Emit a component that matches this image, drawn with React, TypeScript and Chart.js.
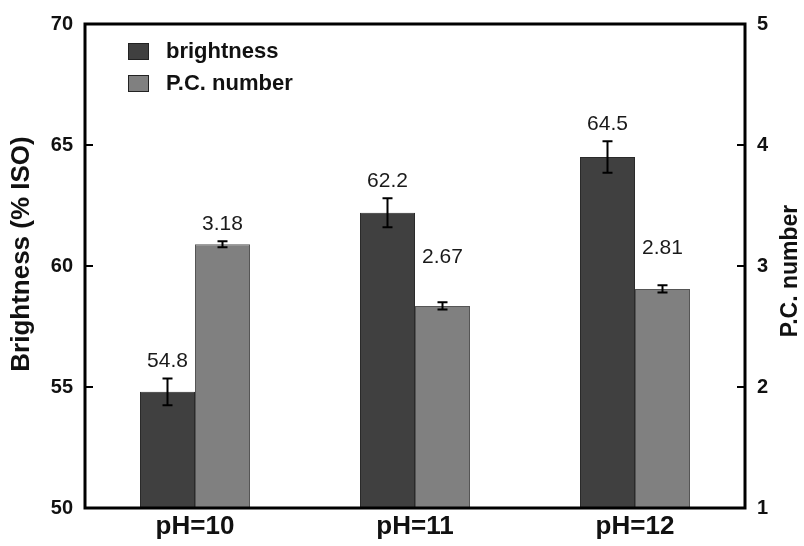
import React, { useEffect, useRef } from "react";
import { Chart, registerables } from "chart.js";

Chart.register(...registerables);

const categories = ["pH=10", "pH=11", "pH=12"];
const brightness = [54.8, 62.2, 64.5];
const brightnessErr = [0.55, 0.6, 0.65];
const pcNumber = [3.18, 2.67, 2.81];
const pcErr = [0.025, 0.03, 0.03];
const leftTicks = [50, 55, 60, 65, 70];
const rightTicks = [1, 2, 3, 4, 5];
const seriesNames = ["brightness", "P.C. number"];
const leftTitle = "Brightness (% ISO)";
const rightTitle = "P.C. number";

const FONT = "'Liberation Sans', Arial, sans-serif";
const DARK = "#404040";
const LIGHT = "#808080";

const overlay = {
  id: "overlay",
  afterDatasetsDraw(chart: any, _args: any, opts: any) {
    const ctx = chart.ctx;
    const area = chart.chartArea;
    const errs = [brightnessErr, pcErr];
    const values = [brightness, pcNumber];
    ctx.save();
    // error bars and value labels
    chart.data.datasets.forEach((ds: any, di: number) => {
      const meta = chart.getDatasetMeta(di);
      const scale = chart.scales[ds.yAxisID];
      meta.data.forEach((el: any, i: number) => {
        const v = values[di][i];
        const e = errs[di][i];
        const yt = scale.getPixelForValue(v + e);
        const yb = scale.getPixelForValue(v - e);
        const x = el.x;
        ctx.strokeStyle = "#000";
        ctx.lineWidth = 2;
        ctx.beginPath();
        ctx.moveTo(x, yt);
        ctx.lineTo(x, yb);
        ctx.moveTo(x - 5, yt);
        ctx.lineTo(x + 5, yt);
        ctx.moveTo(x - 5, yb);
        ctx.lineTo(x + 5, yb);
        ctx.stroke();
        const lift = (opts.labelLift[di] || [])[i] || 0;
        ctx.fillStyle = "#1a1a1a";
        ctx.font = `21px ${FONT}`;
        ctx.textAlign = "center";
        ctx.textBaseline = "middle";
        ctx.fillText(String(v), x, yt - 17 - lift);
      });
    });
    // frame
    ctx.strokeStyle = "#000";
    ctx.lineWidth = 3;
    ctx.strokeRect(area.left, area.top, area.right - area.left, area.bottom - area.top);
    // inward tick marks
    ctx.lineWidth = 2;
    const ys = chart.scales.y;
    const y1 = chart.scales.y1;
    leftTicks.forEach((t) => {
      const p = ys.getPixelForValue(t);
      ctx.beginPath();
      ctx.moveTo(area.left, p);
      ctx.lineTo(area.left + 8, p);
      ctx.stroke();
    });
    rightTicks.forEach((t) => {
      const p = y1.getPixelForValue(t);
      ctx.beginPath();
      ctx.moveTo(area.right, p);
      ctx.lineTo(area.right - 8, p);
      ctx.stroke();
    });
    // legend
    const colors = [DARK, LIGHT];
    seriesNames.forEach((name, i) => {
      const by = 43 + i * 32;
      ctx.fillStyle = colors[i];
      ctx.fillRect(128, by, 21, 17);
      ctx.strokeStyle = "#222";
      ctx.lineWidth = 1;
      ctx.strokeRect(128.5, by + 0.5, 20, 16);
      ctx.fillStyle = "#111";
      ctx.font = `bold 22px ${FONT}`;
      ctx.textAlign = "left";
      ctx.textBaseline = "middle";
      ctx.fillText(name, 166, by + 9);
    });
    // axis titles
    ctx.fillStyle = "#111";
    ctx.textAlign = "center";
    ctx.textBaseline = "middle";
    ctx.save();
    ctx.font = `bold 26px ${FONT}`;
    ctx.translate(22, 254);
    ctx.rotate(-Math.PI / 2);
    ctx.fillText(leftTitle, 0, 0);
    ctx.restore();
    ctx.save();
    ctx.font = `bold 23px ${FONT}`;
    ctx.translate(791, 271);
    ctx.rotate(-Math.PI / 2);
    ctx.fillText(rightTitle, 0, 0);
    ctx.restore();
    ctx.restore();
  },
};

export default function App() {
  const ref = useRef<HTMLCanvasElement>(null);
  useEffect(() => {
    document.body.style.margin = "0";
    const chart = new Chart(ref.current as HTMLCanvasElement, {
      type: "bar",
      data: {
        labels: categories,
        datasets: [
          {
            label: seriesNames[0],
            data: brightness,
            yAxisID: "y",
            backgroundColor: DARK,
            borderColor: "#2a2a2a",
            borderWidth: 1,
            barPercentage: 1,
            categoryPercentage: 0.5,
          },
          {
            label: seriesNames[1],
            data: pcNumber,
            yAxisID: "y1",
            backgroundColor: LIGHT,
            borderColor: "#555",
            borderWidth: 1,
            barPercentage: 1,
            categoryPercentage: 0.5,
          },
        ],
      },
      options: {
        responsive: false,
        animation: false,
        layout: { padding: { top: 22, left: 0, right: 0, bottom: 0 } },
        plugins: {
          legend: { display: false },
          tooltip: { enabled: false },
          overlay: { labelLift: [[0, 0, 0], [0, 28, 20]] },
        } as any,
        scales: {
          x: {
            grid: { display: false, drawTicks: false },
            border: { display: false },
            ticks: {
              color: "#111",
              padding: 3,
              font: { family: FONT, size: 26, weight: "bold" },
            },
            afterFit: (s: any) => {
              s.height = 38;
            },
          },
          y: {
            position: "left",
            min: 50,
            max: 70,
            grid: { display: false, drawTicks: false },
            border: { display: false },
            ticks: {
              stepSize: 5,
              color: "#111",
              padding: 12,
              font: { family: FONT, size: 20, weight: "bold" },
            },
            afterFit: (s: any) => {
              s.width = 85;
            },
          },
          y1: {
            position: "right",
            min: 1,
            max: 5,
            grid: { display: false, drawTicks: false },
            border: { display: false },
            ticks: {
              stepSize: 1,
              color: "#111",
              padding: 12,
              font: { family: FONT, size: 20, weight: "bold" },
            },
            afterFit: (s: any) => {
              s.width = 59;
            },
          },
        },
      },
      plugins: [overlay],
    });
    return () => chart.destroy();
  }, []);
  return (
    <canvas
      ref={ref}
      width={804}
      height={546}
      style={{ display: "block", position: "fixed", left: 0, top: 0 }}
    />
  );
}
